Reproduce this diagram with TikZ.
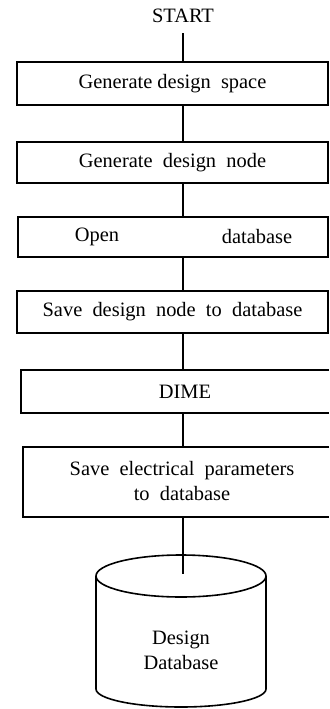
\documentclass[tikz,border=0pt]{standalone}
\usepackage{fontspec}
\setmainfont{Liberation Serif}
\begin{document}
\begin{tikzpicture}[x=1bp,y=-1bp,
  every node/.style={font=\fontsize{20.5}{25}\selectfont, inner sep=0pt},
  box/.style={draw, line width=1.6bp},
  conn/.style={line width=1.6bp},
  frame/.style={line width=1.6bp}]
\useasboundingbox (0,0) rectangle (329,709);
% START
\node (start) at (183,16) {START};
% boxes
\node[box, minimum width=311bp, minimum height=43bp] (b1) at (172.5,83.5) {Generate design\ \ space};
\node[box, minimum width=311bp, minimum height=41bp] (b2) at (172.5,162.5) {Generate\ \ design\ \ node};
\node[box, minimum width=310bp, minimum height=40bp] (b3) at (173,237) {};
\node (b3a) at (97,237) {Open};
\node (b3b) at (257,237) {database};
\node[box, minimum width=311bp, minimum height=42bp] (b4) at (172.5,312) {Save\ \ design\ \ node\ \ to\ \ database};
% open-right boxes (they run past the picture edge)
\node[minimum width=308bp, minimum height=43bp] (b5) at (175,391.5) {};
\draw[frame] (b5.north east) -- (b5.north west) -- (b5.south west) -- (b5.south east);
\node (b5t) at (185,392) {DIME};
\node[minimum width=306bp, minimum height=70bp] (b6) at (176,482) {};
\draw[frame] (b6.north east) -- (b6.north west) -- (b6.south west) -- (b6.south east);
\node[align=center] (b6t) at (182,481) {Save\ \ electrical\ \ parameters\\to\ \ database};
% cylinder
\draw[frame] (181,576) ellipse [x radius=85, y radius=21];
\draw[frame] (96,576) -- (96,689) arc[start angle=180, end angle=0, x radius=85, y radius=18] -- (266,576);
\node[align=center] (db) at (181,650) {Design\\Database};
\coordinate (dbtop) at (183,574);
% connectors
\draw[conn] ([yshift=-10bp]start.south) -- (start |- b1.north);
\draw[conn] (start |- b1.south) -- (start |- b2.north);
\draw[conn] (start |- b2.south) -- (start |- b3.north);
\draw[conn] (start |- b3.south) -- (start |- b4.north);
\draw[conn] (start |- b4.south) -- (start |- b5.north);
\draw[conn] (start |- b5.south) -- (start |- b6.north);
\draw[conn] (start |- b6.south) -- (dbtop);
\end{tikzpicture}
\end{document}
